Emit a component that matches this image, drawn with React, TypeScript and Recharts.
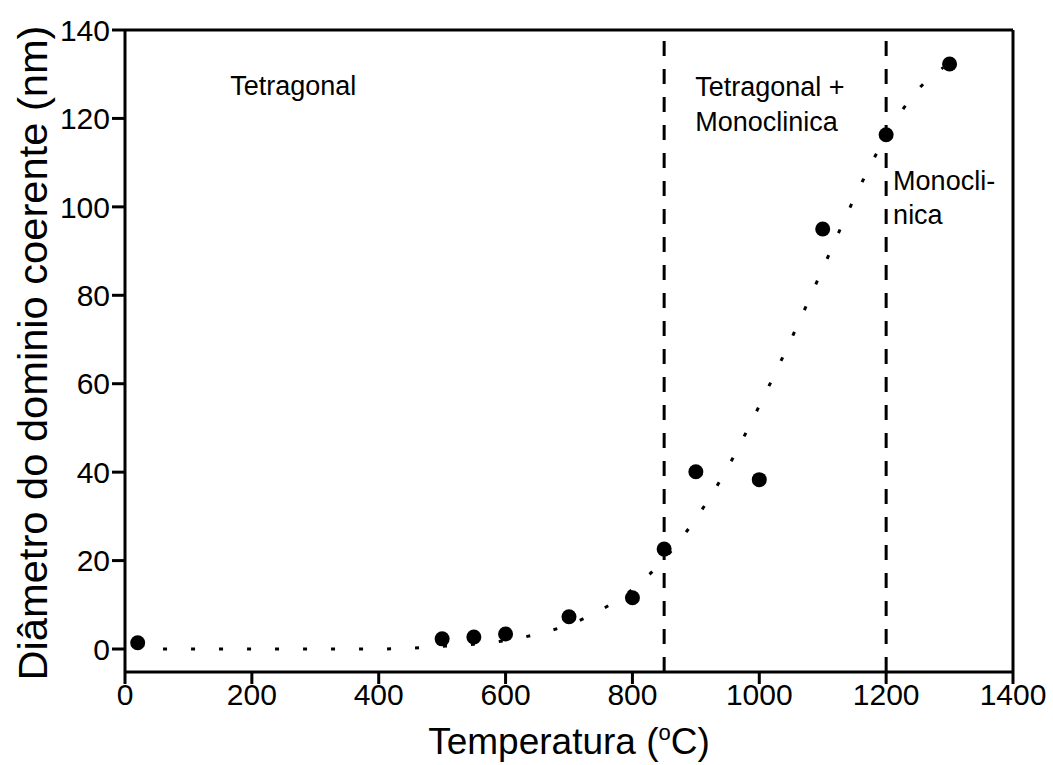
import React from 'react';
import {
  ComposedChart,
  Line,
  Scatter,
  XAxis,
  YAxis,
  ReferenceLine,
  ReferenceDot,
  Label,
} from 'recharts';

// measured points
const temps = [20, 500, 550, 600, 700, 800, 850, 900, 1000, 1100, 1200, 1300];
const diam = [1.4, 2.3, 2.7, 3.4, 7.3, 11.6, 22.6, 40.1, 38.3, 95.0, 116.3, 132.3];

// dotted fit curve
const fitTemps = [60, 100, 200, 300, 400, 450, 500, 550, 600, 650, 700, 750, 800, 850, 900, 950, 1000, 1050, 1100, 1150, 1200, 1250, 1290];
const fitDiam = [0, 0, 0, 0, 0, 0.2, 0.6, 1.1, 1.9, 3.4, 5.5, 8.8, 13.5, 20.3, 29.5, 41, 55, 70, 86, 102, 116, 126.5, 131.5];

const xTicks = [0, 200, 400, 600, 800, 1000, 1200, 1400];
const yTicks = [0, 20, 40, 60, 80, 100, 120, 140];
const phaseLimits = [850, 1200];

const annotations = [
  { text: 'Tetragonal', x: 166, y: 125.2 },
  { text: 'Tetragonal +', x: 899, y: 125.0 },
  { text: 'Monoclinica', x: 899, y: 117.1 },
  { text: 'Monocli-', x: 1211, y: 103.9 },
  { text: 'nica', x: 1211, y: 96.2 },
];

const points = temps.map((t, i) => ({ x: t, y: diam[i] }));
const fit = fitTemps.map((t, i) => ({ x: t, y: fitDiam[i] }));

const FONT = 'Arial, "Liberation Sans", Helvetica, sans-serif';

const Dot = (props: any) => <circle cx={props.cx} cy={props.cy} r={7.5} fill="#000" />;

const annotShape = (text: string) => (props: any) => (
  <text x={props.cx} y={props.cy} fontSize={27} fontFamily={FONT} fill="#000">
    {text}
  </text>
);

const XTitle = (props: any) => {
  const { x, y, width } = props.viewBox;
  return (
    <text x={x + width / 2} y={y + 82} textAnchor="middle" fontSize={37} fontFamily={FONT} fill="#000">
      Temperatura (
      <tspan fontSize={22} dy={-14}>o</tspan>
      <tspan dy={14}>C)</tspan>
    </text>
  );
};

const YTitle = (props: any) => {
  const { x, y, height } = props.viewBox;
  const cx = x + 47;
  const cy = y + height / 2 + 2;
  return (
    <text
      x={cx}
      y={cy}
      textAnchor="middle"
      fontSize={40}
      fontFamily={FONT}
      fill="#000"
      textLength={655}
      lengthAdjust="spacingAndGlyphs"
      transform={`rotate(-90, ${cx}, ${cy})`}
    >
      Diâmetro do dominio coerente (nm)
    </text>
  );
};

const axisStroke = { stroke: '#000', strokeWidth: 3 };

const App = () => {
  return (
    <div style={{ width: 1053, height: 765, background: '#fff', fontFamily: FONT }}>
      <style>{'body{margin:0}'}</style>
      <ComposedChart width={1053} height={765} margin={{ top: 30, right: 40, left: 0, bottom: 0 }}>
        <XAxis
          type="number"
          dataKey="x"
          domain={[0, 1400]}
          ticks={xTicks}
          allowDataOverflow
          height={93}
          axisLine={axisStroke}
          tickLine={axisStroke}
          tickSize={12}
          tickMargin={0}
          tick={{ fontSize: 30, fill: '#000', fontFamily: FONT }}
          interval={0}
        >
          <Label content={<XTitle />} />
        </XAxis>
        <YAxis
          type="number"
          dataKey="y"
          domain={[-5.2, 140]}
          ticks={yTicks}
          allowDataOverflow
          width={125}
          axisLine={axisStroke}
          tickLine={axisStroke}
          tickSize={13}
          tickMargin={2}
          tick={{ fontSize: 30, fill: '#000', fontFamily: FONT }}
          interval={0}
        >
          <Label content={<YTitle />} />
        </YAxis>
        <ReferenceLine y={140} stroke="#000" strokeWidth={3} />
        <ReferenceLine x={1400} stroke="#000" strokeWidth={3} />
        {phaseLimits.map((t) => (
          <ReferenceLine key={t} x={t} stroke="#000" strokeWidth={3} strokeDasharray="15 13" />
        ))}
        <Line
          data={fit}
          dataKey="y"
          type="monotone"
          stroke="#000"
          strokeWidth={3}
          strokeDasharray="4 24"
          dot={false}
          activeDot={false}
          isAnimationActive={false}
        />
        <Scatter data={points} dataKey="y" shape={<Dot />} isAnimationActive={false} />
        {annotations.map((a) => (
          <ReferenceDot key={a.text} x={a.x} y={a.y} r={0} shape={annotShape(a.text)} />
        ))}
      </ComposedChart>
    </div>
  );
};

export default App;
